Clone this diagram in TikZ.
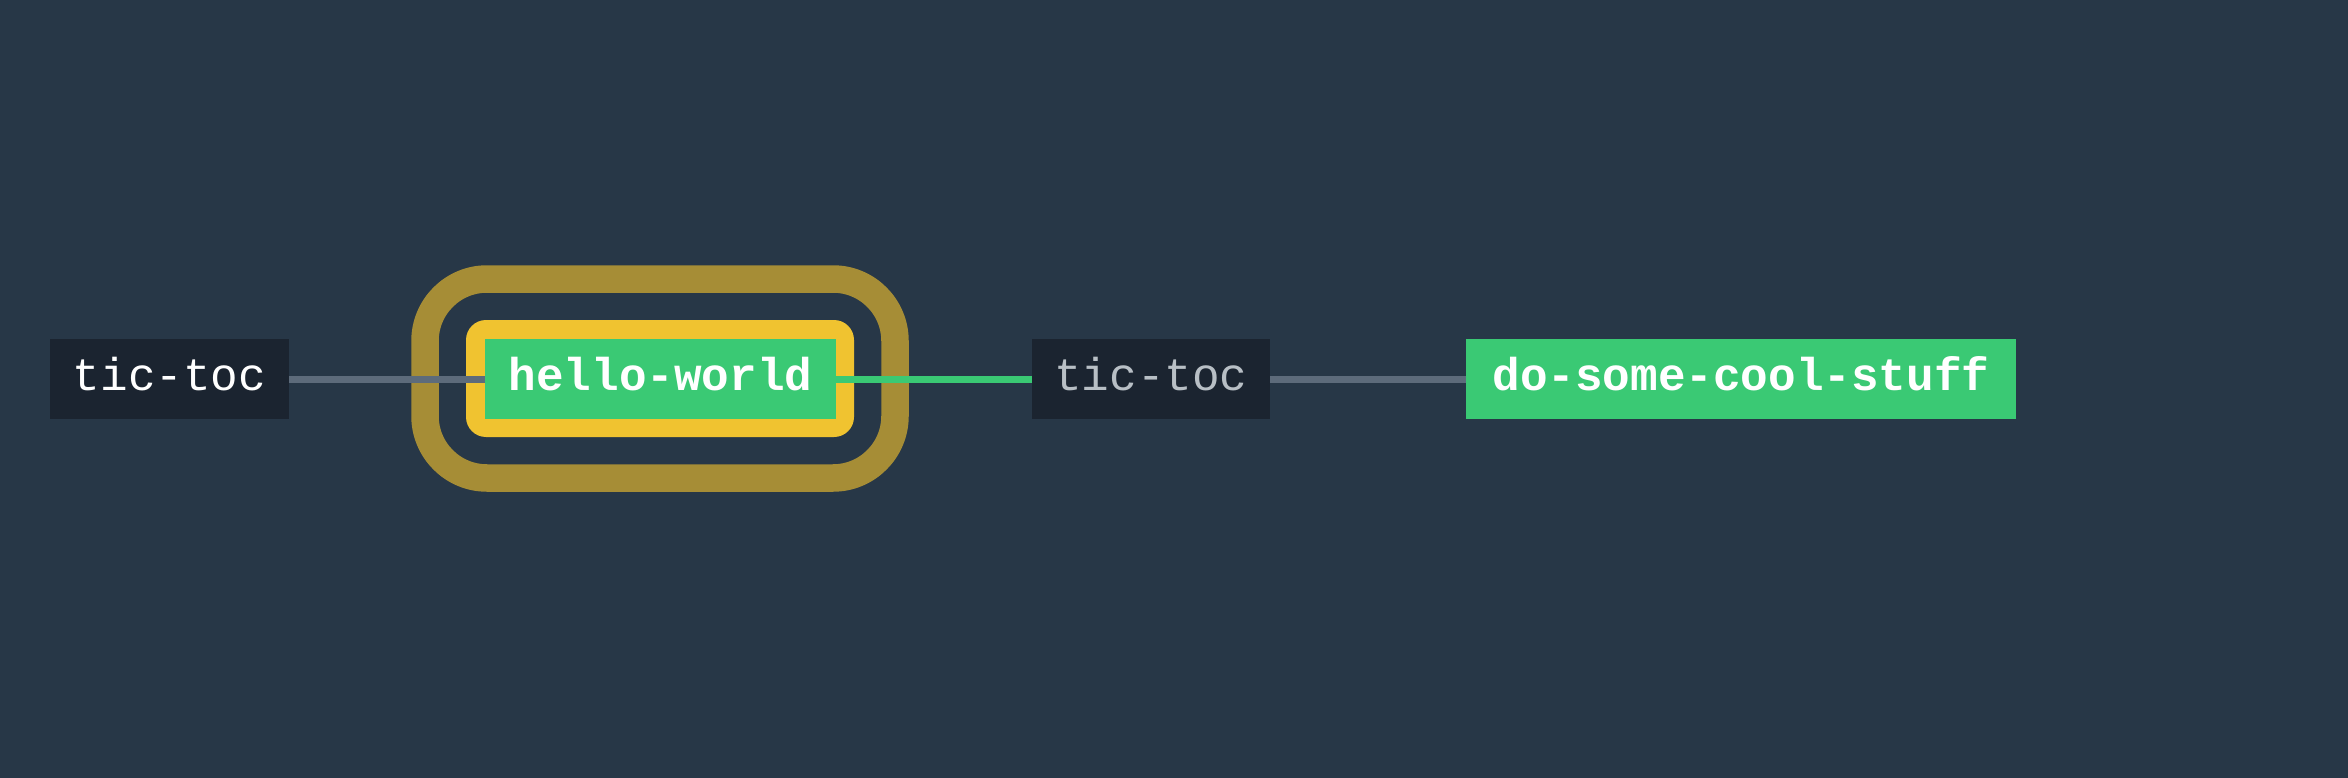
\documentclass[tikz,border=0pt]{standalone}
\usepackage{fontspec}
\setmonofont{Liberation Mono}
\definecolor{bg}{HTML}{273747}
\definecolor{darkbox}{HTML}{1B2430}
\definecolor{nodegreen}{HTML}{3AC974}
\definecolor{hlyellow}{HTML}{F0C330}
\definecolor{gold}{HTML}{A68D36}
\definecolor{edgegray}{HTML}{5D6B7B}
\definecolor{dimtext}{HTML}{B8BFC5}
\tikzset{
  x=1pt, y=-1pt,
  box/.style={inner sep=0pt, minimum height=80pt, text height=30pt, text depth=8pt, font=\ttfamily\fontsize{46}{55}\selectfont, anchor=center},
  plainbox/.style={box, fill=darkbox, text=white},
  dimbox/.style={box, fill=darkbox, text=dimtext},
  greenbox/.style={box, fill=nodegreen, text=white, font=\ttfamily\bfseries\fontsize{46}{55}\selectfont},
  edge/.style={line width=7pt, edgegray},
  greenedge/.style={line width=7pt, nodegreen},
}
\begin{document}
\begin{tikzpicture}
\fill[bg] (0,0) rectangle (2348,778);
\useasboundingbox (0,0) rectangle (2348,778);
% selection rings
\node[draw=gold, line width=27.5pt, rounded corners=62pt, minimum width=470pt, minimum height=199pt, inner sep=0pt] (ring) at (660,378.5) {};
\node[fill=hlyellow, rounded corners=20pt, minimum width=388pt, minimum height=117pt, inner sep=0pt] (halo) at (660,378.5) {};
% nodes
\node[plainbox, minimum width=239pt] (tic1) at (169.5,379) {tic-toc};
\node[greenbox, minimum width=351pt] (hello) at (660.5,379) {hello-world};
\node[dimbox, minimum width=238pt] (tic2) at (1151,379) {tic-toc};
\node[greenbox, minimum width=550pt] (cool) at (1741,379) {do-some-cool-stuff};
% edges
\draw[edge] (tic1.east) -- (hello.west);
\draw[greenedge] (hello.east) -- (tic2.west);
\draw[edge] (tic2.east) -- (cool.west);
\end{tikzpicture}
\end{document}
